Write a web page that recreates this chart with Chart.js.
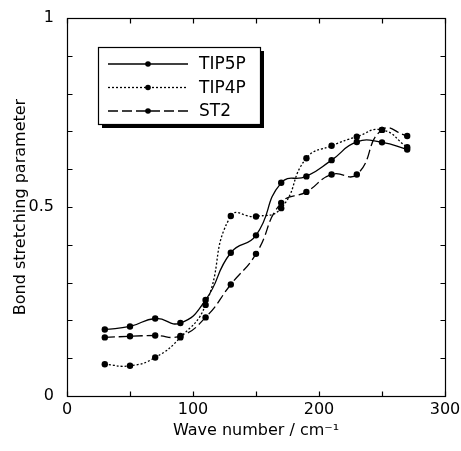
<!DOCTYPE html>
<html>
<head>
<meta charset="utf-8">
<title>Bond stretching parameter</title>
<script src="https://cdn.jsdelivr.net/npm/chart.js@4/dist/chart.umd.min.js"></script>
<style>
    body { margin: 0; background: #fff; }
    #chart { display: block; }
</style>
</head>
<body>
<canvas id="chart" width="461" height="451"></canvas>
<script>
// Values
const waveNumbers = [30, 50, 70, 90, 110, 130, 150, 170, 190, 210, 230, 250, 270];
const tip5p = [0.176, 0.184, 0.205, 0.193, 0.254, 0.379, 0.425, 0.564, 0.581, 0.624, 0.672, 0.671, 0.652];
const tip4p = [0.084, 0.080, 0.102, 0.155, 0.241, 0.476, 0.475, 0.497, 0.629, 0.662, 0.686, 0.704, 0.658];
const st2 = [0.155, 0.158, 0.160, 0.159, 0.208, 0.295, 0.376, 0.511, 0.540, 0.586, 0.586, 0.704, 0.688];
const seriesNames = ['TIP5P', 'TIP4P', 'ST2'];
const xTickLabels = [0, 100, 200, 300];
const yTickLabels = [0, 0.5, 1];

const FONT = 'DejaVu Sans';
Chart.defaults.font.family = FONT;
Chart.defaults.color = '#000';

const dashes = [[], [2, 2], [10, 4]];

function toPoints(values) {
    return waveNumbers.map((x, i) => ({ x: x, y: values[i] }));
}

const datasets = [tip5p, tip4p, st2].map((values, i) => ({
    label: seriesNames[i],
    data: toPoints(values),
    borderColor: '#000',
    borderWidth: 1.3,
    borderDash: dashes[i],
    tension: 0.5,
    pointRadius: 3.2,
    pointBorderWidth: 0,
    pointBackgroundColor: '#000',
    fill: false
}));

function isLabel(list, v) {
    return list.some(t => Math.abs(t - v) < 1e-9);
}

// Frame with inward ticks on all four sides
const framePlugin = {
    id: 'frame',
    afterDatasetsDraw(chart) {
        const ctx = chart.ctx;
        const area = chart.chartArea;
        const xs = chart.scales.x;
        const ys = chart.scales.y;
        const len = 5;
        const left = Math.round(area.left) + 0.5;
        const right = Math.round(area.right) + 0.5;
        const top = Math.round(area.top) + 0.5;
        const bottom = Math.round(area.bottom) + 0.5;
        ctx.save();
        ctx.strokeStyle = '#000';
        ctx.lineWidth = 1.2;
        ctx.strokeRect(left, top, right - left, bottom - top);
        ctx.beginPath();
        xs.ticks.forEach(t => {
            const px = Math.round(xs.getPixelForValue(t.value)) + 0.5;
            ctx.moveTo(px, bottom);
            ctx.lineTo(px, bottom - len);
            ctx.moveTo(px, top);
            ctx.lineTo(px, top + len);
        });
        ys.ticks.forEach(t => {
            const py = Math.round(ys.getPixelForValue(t.value)) + 0.5;
            ctx.moveTo(left, py);
            ctx.lineTo(left + len, py);
            ctx.moveTo(right, py);
            ctx.lineTo(right - len, py);
        });
        ctx.stroke();
        ctx.restore();
    }
};

// Boxed legend with drop shadow inside the plot
const boxLegendPlugin = {
    id: 'boxLegend',
    afterDraw(chart) {
        const ctx = chart.ctx;
        const area = chart.chartArea;
        const bx = area.left + 31;
        const by = area.top + 29;
        const bw = 162;
        const bh = 77;
        ctx.save();
        ctx.fillStyle = '#000';
        ctx.fillRect(bx + 4, by + 4, bw, bh);
        ctx.fillStyle = '#fff';
        ctx.fillRect(bx, by, bw, bh);
        ctx.strokeStyle = '#000';
        ctx.lineWidth = 1.2;
        ctx.strokeRect(bx + 0.5, by + 0.5, bw, bh);

        ctx.font = '17px "' + FONT + '"';
        ctx.textBaseline = 'middle';
        chart.data.datasets.forEach((ds, i) => {
            const y = by + 17 + i * 23.5;
            ctx.beginPath();
            ctx.setLineDash(ds.borderDash);
            ctx.lineWidth = 1.3;
            ctx.moveTo(bx + 10, y);
            ctx.lineTo(bx + 90, y);
            ctx.stroke();
            ctx.setLineDash([]);
            ctx.beginPath();
            ctx.arc(bx + 50, y, 2.8, 0, Math.PI * 2);
            ctx.fillStyle = '#000';
            ctx.fill();
            ctx.fillText(ds.label, bx + 101, y + 1);
        });
        ctx.restore();
    }
};

new Chart(document.getElementById('chart'), {
    type: 'line',
    data: { datasets: datasets },
    options: {
        responsive: false,
        animation: false,
        layout: { padding: { top: 18, right: 16, left: 0, bottom: 0 } },
        plugins: {
            legend: { display: false },
            tooltip: { enabled: false }
        },
        scales: {
            x: {
                type: 'linear',
                min: 0,
                max: 300,
                grid: { display: false },
                border: { display: false },
                ticks: {
                    stepSize: 50,
                    padding: -4,
                    maxRotation: 0,
                    autoSkip: false,
                    font: { size: 16 },
                    callback: v => isLabel(xTickLabels, v) ? String(v) : ''
                },
                title: {
                    display: true,
                    text: 'Wave number / cm\u207B\u00B9',
                    font: { size: 16 },
                    padding: { top: 0, bottom: 11 }
                },
                afterFit: s => { s.height = 55; }
            },
            y: {
                min: 0,
                max: 1,
                grid: { display: false },
                border: { display: false },
                ticks: {
                    stepSize: 0.1,
                    padding: 5,
                    autoSkip: false,
                    font: { size: 16 },
                    callback: v => isLabel(yTickLabels, v) ? String(+v.toFixed(1)) : ''
                },
                title: {
                    display: true,
                    text: 'Bond stretching parameter',
                    font: { size: 16 },
                    padding: { top: 11, bottom: 0 }
                },
                afterFit: s => { s.width = 67; }
            }
        }
    },
    plugins: [framePlugin, boxLegendPlugin]
});
</script>
</body>
</html>
